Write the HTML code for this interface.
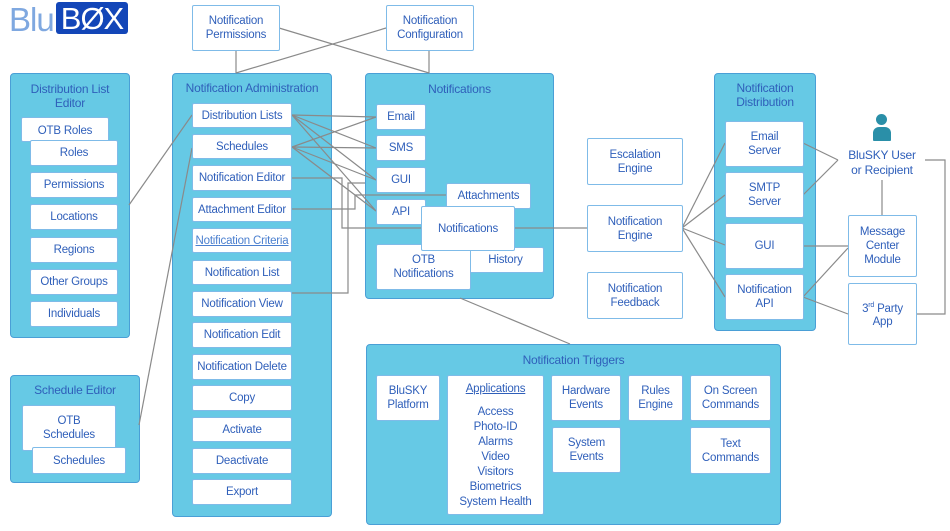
<!DOCTYPE html>
<html><head><meta charset="utf-8"><style>
body{margin:0;width:950px;height:531px;background:#fff;position:relative;overflow:hidden;font-family:"Liberation Sans",Arial,sans-serif;}
.c{position:absolute;z-index:0;background:#66c9e5;border:1.5px solid #4a9fd6;border-radius:4px;box-sizing:border-box;color:#2f5fba;font-size:12px;text-align:center;line-height:14px;letter-spacing:-0.2px}
.b{position:absolute;z-index:2;background:#fff;border:1.5px solid #7fbbe8;border-radius:2px;box-sizing:border-box;color:#2f5fba;font-size:11.5px;letter-spacing:-0.2px;display:flex;align-items:center;justify-content:center;text-align:center;line-height:14px;white-space:nowrap}
svg{position:absolute;left:0;top:0;z-index:1}
</style></head><body>
<svg width="950" height="531">
<g stroke="#8a8a8a" stroke-width="1.2" fill="none">
<line x1="236" y1="50" x2="236" y2="73"/><line x1="429" y1="50" x2="429" y2="73"/>
<line x1="279" y1="28" x2="429" y2="73"/><line x1="386" y1="28" x2="236" y2="73"/>
<line x1="129" y1="205" x2="192" y2="115"/><line x1="139" y1="425" x2="192" y2="148"/>
<line x1="292" y1="115" x2="376" y2="117"/><line x1="292" y1="115" x2="376" y2="148"/><line x1="292" y1="115" x2="376" y2="180"/><line x1="292" y1="115" x2="376" y2="211"/>
<line x1="292" y1="147" x2="376" y2="117"/><line x1="292" y1="147" x2="376" y2="148"/><line x1="292" y1="147" x2="376" y2="180"/><line x1="292" y1="147" x2="376" y2="211"/>
<polyline points="292,178 342,178 342,228 421,228"/>
<polyline points="292,209 355,209 355,195 446,195"/>
<polyline points="292,293 348,293 348,183 365,183"/>
<line x1="514" y1="228" x2="587" y2="228"/>
<line x1="682" y1="228" x2="725" y2="143"/><line x1="682" y1="228" x2="725" y2="195"/><line x1="682" y1="228" x2="725" y2="245"/><line x1="682" y1="228" x2="725" y2="297"/>
<line x1="803" y1="143" x2="838" y2="160"/><line x1="803" y1="195" x2="838" y2="160"/>
<line x1="882" y1="180" x2="882" y2="215"/>
<line x1="803" y1="246" x2="848" y2="246"/><line x1="803" y1="297" x2="848" y2="248"/><line x1="803" y1="297" x2="848" y2="314"/>
<polyline points="925,160 945,160 945,314 916,314"/>
<line x1="460" y1="298" x2="570" y2="344"/>
</g></svg>

<div style="position:absolute;left:9px;top:1px;font-size:33px;line-height:38px;color:#7fa8e0;letter-spacing:-1px">Blu</div>
<div style="position:absolute;left:56px;top:2px;width:72px;height:32px;background:#1346b8;border-radius:3px;color:#fff;font-size:31px;line-height:33px;text-align:center;letter-spacing:-1px">BØX</div>

<div class="b" style="left:192px;top:5px;width:88px;height:46px">Notification<br>Permissions</div>
<div class="b" style="left:386px;top:5px;width:88px;height:46px">Notification<br>Configuration</div>

<div class="c" style="left:10px;top:73px;width:120px;height:265px;padding-top:8px">Distribution List<br>Editor</div>
<div class="b" style="left:21px;top:117px;width:88px;height:25px;align-items:flex-start;padding-top:6px">OTB Roles</div>
<div class="b" style="left:30px;top:140px;width:88px;height:26px">Roles</div>
<div class="b" style="left:30px;top:172px;width:88px;height:26px">Permissions</div>
<div class="b" style="left:30px;top:204px;width:88px;height:26px">Locations</div>
<div class="b" style="left:30px;top:237px;width:88px;height:26px">Regions</div>
<div class="b" style="left:30px;top:269px;width:88px;height:26px">Other Groups</div>
<div class="b" style="left:30px;top:301px;width:88px;height:26px">Individuals</div>

<div class="c" style="left:10px;top:375px;width:130px;height:108px;padding-top:7px">Schedule Editor</div>
<div class="b" style="left:22px;top:405px;width:94px;height:46px;align-items:flex-start;padding-top:8px">OTB<br>Schedules</div>
<div class="b" style="left:32px;top:447px;width:94px;height:27px">Schedules</div>

<div class="c" style="left:172px;top:73px;width:160px;height:444px;padding-top:7px">Notification Administration</div>
<div class="b" style="left:192px;top:103px;width:100px;height:25px">Distribution Lists</div>
<div class="b" style="left:192px;top:134px;width:100px;height:25px">Schedules</div>
<div class="b" style="left:192px;top:165px;width:100px;height:26px">Notification Editor</div>
<div class="b" style="left:192px;top:197px;width:100px;height:25px">Attachment Editor</div>
<div class="b" style="left:192px;top:228px;width:100px;height:25px;text-decoration:underline;color:#4a7fcf">Notification Criteria</div>
<div class="b" style="left:192px;top:260px;width:100px;height:25px">Notification List</div>
<div class="b" style="left:192px;top:291px;width:100px;height:26px">Notification View</div>
<div class="b" style="left:192px;top:322px;width:100px;height:26px">Notification Edit</div>
<div class="b" style="left:192px;top:354px;width:100px;height:26px">Notification Delete</div>
<div class="b" style="left:192px;top:385px;width:100px;height:26px">Copy</div>
<div class="b" style="left:192px;top:417px;width:100px;height:25px">Activate</div>
<div class="b" style="left:192px;top:448px;width:100px;height:26px">Deactivate</div>
<div class="b" style="left:192px;top:479px;width:100px;height:26px">Export</div>

<div class="c" style="left:365px;top:73px;width:189px;height:226px;padding-top:8px">Notifications</div>
<div class="b" style="left:376px;top:104px;width:50px;height:26px">Email</div>
<div class="b" style="left:376px;top:135px;width:50px;height:26px">SMS</div>
<div class="b" style="left:376px;top:167px;width:50px;height:26px">GUI</div>
<div class="b" style="left:376px;top:199px;width:50px;height:26px">API</div>
<div class="b" style="left:446px;top:183px;width:85px;height:26px">Attachments</div>
<div class="b" style="left:467px;top:247px;width:77px;height:26px">History</div>
<div class="b" style="left:376px;top:244px;width:95px;height:46px">OTB<br>Notifications</div>
<div class="b" style="left:421px;top:206px;width:94px;height:45px">Notifications</div>

<div class="b" style="left:587px;top:138px;width:96px;height:47px">Escalation<br>Engine</div>
<div class="b" style="left:587px;top:205px;width:96px;height:47px">Notification<br>Engine</div>
<div class="b" style="left:587px;top:272px;width:96px;height:47px">Notification<br>Feedback</div>

<div class="c" style="left:714px;top:73px;width:102px;height:258px;padding-top:7px">Notification<br>Distribution</div>
<div class="b" style="left:725px;top:121px;width:79px;height:46px">Email<br>Server</div>
<div class="b" style="left:725px;top:172px;width:79px;height:46px">SMTP<br>Server</div>
<div class="b" style="left:725px;top:223px;width:79px;height:46px">GUI</div>
<div class="b" style="left:725px;top:274px;width:79px;height:46px">Notification<br>API</div>

<div style="position:absolute;left:876px;top:114px;width:11px;height:11px;border-radius:50%;background:#2a8fa8"></div>
<div style="position:absolute;left:873px;top:127px;width:18px;height:14px;border-radius:6px 6px 1px 1px;background:#2a8fa8"></div>
<div style="position:absolute;left:836px;top:148px;width:92px;text-align:center;color:#2f5fba;font-size:12px;line-height:15px;letter-spacing:-0.2px">BluSKY User<br>or Recipient</div>
<div class="b" style="left:848px;top:215px;width:69px;height:62px">Message<br>Center<br>Module</div>
<div class="b" style="left:848px;top:283px;width:69px;height:62px"><span>3<sup style="font-size:7px">rd</sup> Party<br>App</span></div>

<div class="c" style="left:366px;top:344px;width:415px;height:181px;padding-top:8px">Notification Triggers</div>
<div class="b" style="left:376px;top:375px;width:64px;height:46px">BluSKY<br>Platform</div>
<div class="b" style="left:447px;top:375px;width:97px;height:140px;flex-direction:column;justify-content:flex-start;padding-top:6px;line-height:15px"><u>Applications</u><div style="height:8px"></div>Access<br>Photo-ID<br>Alarms<br>Video<br>Visitors<br>Biometrics<br>System Health</div>
<div class="b" style="left:551px;top:375px;width:70px;height:46px">Hardware<br>Events</div>
<div class="b" style="left:552px;top:427px;width:69px;height:46px">System<br>Events</div>
<div class="b" style="left:628px;top:375px;width:55px;height:46px">Rules<br>Engine</div>
<div class="b" style="left:690px;top:375px;width:81px;height:46px">On Screen<br>Commands</div>
<div class="b" style="left:690px;top:427px;width:81px;height:47px">Text<br>Commands</div>
</body></html>
